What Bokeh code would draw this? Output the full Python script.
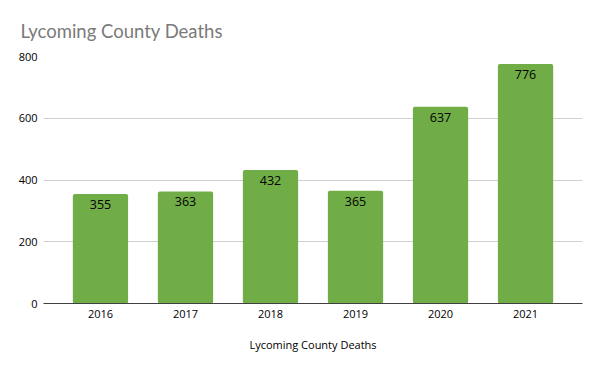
from bokeh.plotting import figure
from bokeh.models import FactorRange, Range1d, ColumnDataSource, LabelSet
from bokeh.core.properties import value
from bokeh.embed import file_html
from bokeh.resources import INLINE

years = ["2016", "2017", "2018", "2019", "2020", "2021"]
deaths = [355, 363, 432, 365, 637, 776]
y_ticks = [0, 200, 400, 600, 800]
title_text = "Lycoming County Deaths"

src = ColumnDataSource(dict(x=years, y=deaths, lab=[str(v) for v in deaths]))

p = figure(
    width=592, height=363,
    x_range=FactorRange(factors=years, range_padding=0.17, range_padding_units="absolute"),
    y_range=Range1d(0, 800),
    output_backend="svg", toolbar_location=None,
    min_border_left=43, min_border_right=10, min_border_top=56, min_border_bottom=60,
)
p.outline_line_color = None

p.title.text = title_text
p.title.text_font = "Lato"
p.title.text_font_size = "18.5px"
p.title.text_font_style = "normal"
p.title.text_color = "#7a7a7a"
p.title.align = "left"
p.title.offset = -23
p.title.standoff = 30

p.vbar(x="x", top="y", width=0.65, source=src, color="#70AD47", line_color=None, border_radius=2)

labels = LabelSet(x="x", y="y", text="lab", source=src, text_align="center",
                  text_baseline="top", y_offset=-6, text_font_size="12.5px",
                  text_color="#000000", text_font=value("Open Sans"))
p.add_layout(labels)

p.xgrid.grid_line_color = None
p.ygrid.grid_line_color = "#d0d0d0"
p.ygrid.grid_line_width = 1
p.yaxis.ticker = y_ticks
p.yaxis.axis_line_color = None
p.yaxis.major_tick_line_color = None
p.yaxis.minor_tick_line_color = None
p.yaxis.major_tick_out = 0
p.yaxis.major_tick_in = 0
p.yaxis.major_label_standoff = 6
p.yaxis.major_label_text_font_size = "11px"
p.yaxis.major_label_text_font = "Open Sans"
p.yaxis.major_label_text_color = "#000000"

p.xaxis.axis_line_color = "#404040"
p.xaxis.axis_line_width = 1
p.xaxis.major_tick_line_color = None
p.xaxis.minor_tick_line_color = None
p.xaxis.major_tick_out = 0
p.xaxis.major_tick_in = 0
p.xaxis.major_label_standoff = 6
p.xaxis.major_label_text_font_size = "11px"
p.xaxis.major_label_text_font = "Open Sans"
p.xaxis.major_label_text_color = "#000000"
p.xaxis.axis_label = "Lycoming County Deaths"
p.xaxis.axis_label_text_font = "Open Sans"
p.xaxis.axis_label_text_font_size = "11px"
p.xaxis.axis_label_text_font_style = "normal"
p.xaxis.axis_label_text_color = "#000000"
p.xaxis.axis_label_standoff = 16

open("out.html", "w").write(file_html(p, INLINE))
